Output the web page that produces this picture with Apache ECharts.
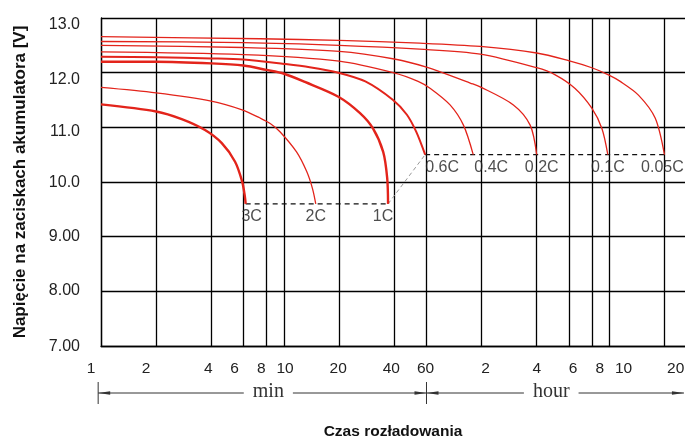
<!DOCTYPE html>
<html><head><meta charset="utf-8">
<script src="https://cdn.jsdelivr.net/npm/echarts@6/dist/echarts.min.js"></script>
<style>html,body{margin:0;padding:0;background:#fff}#c{width:685px;height:440px}</style>
</head><body><div id="c"></div>
<script>
// ---- axis ticks ----
const xTickValues = [1, 2, 4, 6, 8, 10, 20, 40, 60, 120, 240, 360, 480, 600, 1200];
const xTickLabels = ['1', '2', '4', '6', '8', '10', '20', '40', '60', '2', '4', '6', '8', '10', '20'];
const yTickValues = [7, 8, 9, 10, 11, 12, 13];
const yTickLabels = ['7.00', '8.00', '9.00', '10.0', '11.0', '12.0', '13.0'];

// ---- discharge curves: time [min], voltage [V] ----
const rateNames = ['3C', '2C', '1C', '0.6C', '0.4C', '0.2C', '0.1C', '0.05C'];
const t3C = [1, 2, 2.76, 3.7, 4.57, 5.4, 5.9, 6.1, 6.17];
const v3C = [11.42, 11.29, 11.15, 10.95, 10.71, 10.37, 10.01, 9.75, 9.6];
const t2C = [1, 2, 4, 5.9, 7.4, 8.4, 9.5, 11.7, 13.3, 14.3, 14.9];
const v2C = [11.73, 11.63, 11.48, 11.32, 11.17, 11.07, 10.92, 10.55, 10.19, 9.88, 9.6];
const t1C = [1, 2, 4, 6, 8, 10, 13, 19.8, 26, 30.6, 34.8, 36.6, 37];
const v1C = [12.20, 12.20, 12.17, 12.13, 12.05, 11.98, 11.83, 11.56, 11.26, 10.98, 10.55, 10.07, 9.6];
const t06C = [1, 2, 4, 6, 10, 13.8, 19.8, 27.8, 39.4, 46.9, 52.7, 59];
const v06C = [12.29, 12.28, 12.26, 12.24, 12.16, 12.10, 12.0, 11.84, 11.50, 11.23, 10.92, 10.5];
const t04C = [1, 6, 20, 39.4, 54, 63, 80.7, 95.5, 108];
const v04C = [12.38, 12.33, 12.21, 12.0, 11.84, 11.71, 11.41, 11.04, 10.5];
const t02C = [1, 6, 20, 40, 60, 104, 118, 179, 221, 240];
const v02C = [12.50, 12.46, 12.39, 12.25, 12.10, 11.81, 11.74, 11.41, 11.04, 10.5];
const t01C = [1, 6, 20, 55, 118, 240, 303, 389, 480, 545, 587];
const v01C = [12.57, 12.55, 12.50, 12.43, 12.34, 12.09, 11.96, 11.71, 11.35, 10.98, 10.5];
const t005C = [1, 7.4, 20, 55, 118, 240, 358, 480, 592, 686, 863, 1065, 1197];
const v005C = [12.66, 12.62, 12.59, 12.54, 12.48, 12.36, 12.22, 12.09, 11.96, 11.84, 11.59, 11.17, 10.5];

// ---- cut-off voltage lines ----
const cutLowT = [6.17, 37];     const cutLowV = [9.6, 9.6];
const cutSlopeT = [37, 59];     const cutSlopeV = [9.6, 10.5];
const cutHighT = [59, 1197];    const cutHighV = [10.5, 10.5];

// ---- time-unit brackets ----
const bracketStart = [0.965, 60];
const bracketEnd = [60, 1530];
const bracketLabels = ['min', 'hour'];

// ---- styles (not data) ----
const curveT = [t3C, t2C, t1C, t06C, t04C, t02C, t01C, t005C];
const curveV = [v3C, v2C, v1C, v06C, v04C, v02C, v01C, v005C];
const curveWidth = [2.4, 1.3, 2.4, 2.0, 1.3, 1.3, 1.3, 1.3];
const labelDx = [6, 0, -5, 17, 18, 5, 0, -2];
const xLabelShift = [-10, -10, -3, -9, -5, 1, -1, -3, -1, 4, 0, 4, 8, 14, 11];
const yLabelShift = [1, -1, 0, 1, 4, 7, 7];
const RED = '#e3241b';
const zip = (a, b) => a.map((x, i) => [x, b[i]]);

const series = [];
rateNames.forEach((n, i) => {
  series.push({
    type: 'line', name: n, data: zip(curveT[i], curveV[i]),
    showSymbol: false, smooth: 0.3,
    lineStyle: { color: RED, width: curveWidth[i] }, z: 5, silent: true
  });
});
series.push({ type: 'line', data: zip(cutLowT, cutLowV), showSymbol: false,
  lineStyle: { color: '#111', width: 1.2, type: [5, 4] }, z: 4 });
series.push({ type: 'line', data: zip(cutSlopeT, cutSlopeV), showSymbol: false,
  lineStyle: { color: '#999', width: 1, type: [4, 3] }, z: 4 });
series.push({ type: 'line', data: zip(cutHighT, cutHighV), showSymbol: false,
  lineStyle: { color: '#111', width: 1.2, type: [5, 4] }, z: 4 });
series.push({
  type: 'scatter', symbolSize: 0, z: 6,
  data: rateNames.map((n, i) => ({
    value: [curveT[i][curveT[i].length - 1], curveV[i][curveV[i].length - 1]],
    label: { show: true, formatter: n, position: 'bottom', distance: 5, offset: [labelDx[i], 0],
      fontFamily: 'Liberation Sans', fontSize: 16, color: '#222' }
  }))
});
series.push({
  type: 'custom', clip: false, silent: true, z: 10,
  data: bracketStart.map((s, i) => [s, bracketEnd[i], 7]),
  encode: { x: [0, 1], y: 2 },
  renderItem: (params, api) => {
    const i = params.dataIndex;
    const a = api.coord([api.value(0), 7]);
    const b = api.coord([api.value(1), 7]);
    const y = a[1] + 47;
    const x0 = a[0], x1 = b[0];
    const ah = 12, aw = 1.8;
    const ch = [
      { type: 'line', shape: { x1: x0, y1: y, x2: x1, y2: y }, style: { stroke: '#333', lineWidth: 1 } },
      { type: 'polygon', shape: { points: [[x0, y], [x0 + ah, y - aw], [x0 + ah, y + aw]] }, style: { fill: '#333' } },
      { type: 'polygon', shape: { points: [[x1, y], [x1 - ah, y - aw], [x1 - ah, y + aw]] }, style: { fill: '#333' } },
      { type: 'line', shape: { x1: x0, y1: y - 11, x2: x0, y2: y + 11 }, style: { stroke: '#333', lineWidth: 1 } },
      { type: 'text', style: { text: bracketLabels[i], x: (x0 + x1) / 2 + (i === 0 ? 6 : -4), y: y - 1,
        align: 'center', verticalAlign: 'middle', font: '20px "Liberation Serif"', fill: '#333',
        backgroundColor: '#fff', padding: [0, 9] } }
    ];
    return { type: 'group', children: ch };
  }
});

function nearestIndex(v, vals) {
  let best = 0, bd = Infinity;
  vals.forEach((t, i) => { const d = Math.abs(Math.log(v / t)); if (d < bd) { bd = d; best = i; } });
  return best;
}
const xRich = {};
xLabelShift.forEach((d, i) => {
  xRich['s' + i] = { fontFamily: 'Liberation Sans', fontSize: 15.5, color: '#222',
    padding: d >= 0 ? [0, 0, 0, 2 * d] : [0, -2 * d, 0, 0] };
});
const yRich = {};
yLabelShift.forEach((d, i) => {
  yRich['s' + i] = { fontFamily: 'Liberation Sans', fontSize: 16, color: '#222',
    padding: d >= 0 ? [2 * d, 0, 0, 0] : [0, 0, -2 * d, 0] };
});

const chart = echarts.init(document.getElementById('c'), null, { renderer: 'canvas' });
chart.setOption({
  animation: false,
  backgroundColor: '#fff',
  grid: { left: 101, right: 0, top: 18, bottom: 94, containLabel: false, outerBoundsMode: 'none' },
  xAxis: {
    type: 'log', logBase: 10, min: 1, max: 1550,
    name: 'Czas rozładowania', nameLocation: 'middle', nameGap: 78,
    nameTextStyle: { fontFamily: 'Liberation Sans', fontWeight: 'bold', fontSize: 15.5, color: '#111' },
    axisLine: { show: true, lineStyle: { color: '#000', width: 1.3 } },
    axisTick: { show: true, length: 0, customValues: xTickValues, lineStyle: { color: '#000' } },
    axisLabel: { customValues: xTickValues, margin: 15, fontFamily: 'Liberation Sans', fontSize: 15.5, color: '#222',
      rich: xRich,
      formatter: v => { const i = nearestIndex(v, xTickValues); return '{s' + i + '|' + xTickLabels[i] + '}'; } },
    splitLine: { show: true, lineStyle: { color: '#000', width: 1.3 } },
    minorTick: { show: false }, minorSplitLine: { show: false }
  },
  yAxis: {
    type: 'value', min: 7, max: 13, interval: 1,
    name: 'Napięcie na zaciskach akumulatora [V]', nameLocation: 'middle', nameGap: 72,
    nameTextStyle: { fontFamily: 'Liberation Sans', fontWeight: 'bold', fontSize: 17, color: '#111' },
    axisLine: { show: true, lineStyle: { color: '#000', width: 1.3 } },
    axisTick: { show: false },
    axisLabel: { margin: 21, fontFamily: 'Liberation Sans', fontSize: 16, color: '#222', rich: yRich,
      formatter: v => { const i = yTickValues.indexOf(Math.round(v)); return '{s' + i + '|' + yTickLabels[i] + '}'; } },
    splitLine: { show: true, lineStyle: { color: '#000', width: 1.3 } }
  },
  series
});
</script></body></html>
